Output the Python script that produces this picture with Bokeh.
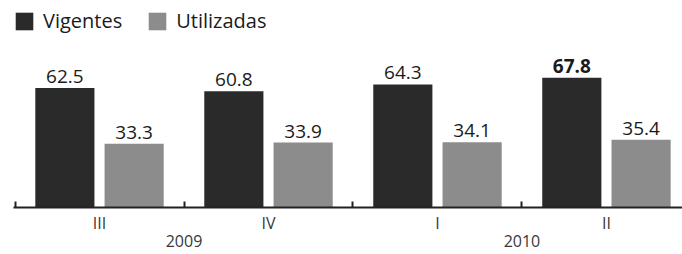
from bokeh.plotting import figure
from bokeh.models import ColumnDataSource, Range1d, FixedTicker, LinearAxis
from bokeh.core.properties import value
from bokeh.embed import file_html
from bokeh.resources import INLINE

# ---- data ----
quarters = ["III", "IV", "I", "II"]
years = ["2009", "2010"]
year_boundaries = [1, 3]   # year label sits on the boundary between its two quarters
vigentes = [62.5, 60.8, 64.3, 67.8]
utilizadas = [33.3, 33.9, 34.1, 35.4]

FONT = "Open Sans"
DARK = "#2a2a2a"
LIGHT = "#8c8c8c"

idx = list(range(len(quarters)))
centers = [i + 0.5 for i in idx]
off = 0.205
bw = 0.35

src_v = ColumnDataSource(dict(
    x=[c - off for c in centers], top=vigentes,
    label=[f"{v:.1f}" for v in vigentes],
    style=["bold" if v == max(vigentes) else "normal" for v in vigentes],
))
src_u = ColumnDataSource(dict(
    x=[c + off for c in centers], top=utilizadas,
    label=[f"{v:.1f}" for v in utilizadas],
))

p = figure(width=682, height=254, output_backend="svg", toolbar_location=None,
           x_range=Range1d(-0.009, 3.95), y_range=Range1d(0, 104.5),
           x_axis_location=None, y_axis_location=None,
           min_border_left=13, min_border_right=0, min_border_top=7, min_border_bottom=46)
p.outline_line_color = None
p.xgrid.visible = False
p.ygrid.visible = False
p.background_fill_color = "white"
p.border_fill_color = "white"

p.vbar(x="x", top="top", width=bw, bottom=0, source=src_v, fill_color=DARK,
       line_color=None, legend_label="Vigentes")
p.vbar(x="x", top="top", width=bw, bottom=0, source=src_u, fill_color=LIGHT,
       line_color=None, legend_label="Utilizadas")

p.text(x="x", y="top", text="label", source=src_v, text_align="center",
       text_baseline="bottom", y_offset=-5, text_font=value(FONT),
       text_font_size="19px", text_color="#1a1a1a", text_font_style="style")
p.text(x="x", y="top", text="label", source=src_u, text_align="center",
       text_baseline="bottom", y_offset=-5, text_font=value(FONT),
       text_font_size="19px", text_color="#1a1a1a")

# category axis: quarter labels under each group, year labels on a second line
tick_pos = centers + [float(b) for b in year_boundaries]
labels = {c: q for c, q in zip(centers, quarters)}
labels.update({int(b): "\n" + y for b, y in zip(year_boundaries, years)})

ax = LinearAxis()
ax.ticker = FixedTicker(ticks=sorted(tick_pos), minor_ticks=[float(i) for i in idx])
ax.major_label_overrides = labels
ax.major_tick_line_color = None
ax.major_tick_in = 0
ax.major_tick_out = 0
ax.minor_tick_in = 6
ax.minor_tick_out = 0
ax.minor_tick_line_width = 2
ax.minor_tick_line_color = "#222222"
ax.axis_line_width = 2
ax.axis_line_color = "#222222"
ax.major_label_standoff = 4
ax.major_label_text_font = FONT
ax.major_label_text_font_size = "16px"
ax.major_label_text_line_height = 0.84
ax.major_label_text_color = "#383838"
p.add_layout(ax, "below")

lg = p.legend[0]
lg.location = "top_left"
lg.orientation = "horizontal"
lg.border_line_color = None
lg.background_fill_alpha = 0
lg.margin = 0
lg.padding = 0
lg.glyph_width = 22
lg.glyph_height = 22
lg.label_standoff = 8
lg.spacing = 24
lg.label_text_font = FONT
lg.label_text_font_size = "20px"
lg.label_text_color = "#1a1a1a"

open("out.html", "w").write(file_html(p, INLINE))
